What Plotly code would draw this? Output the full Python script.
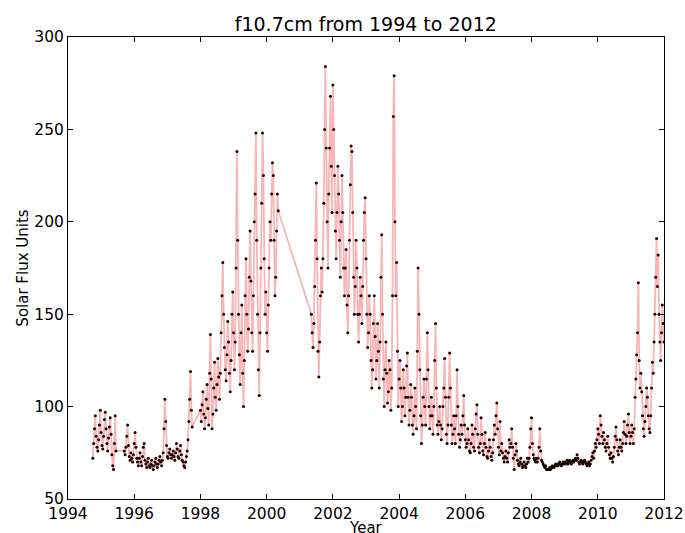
import numpy as np
import plotly.graph_objects as go

STEP = 0.025  # years between samples (~9 days)

# Segment start years
seg_starts = [1994.75, 1995.70, 1998.00, 2001.35]

seg_a = [72, 80, 88, 95, 84, 78, 76, 82, 90, 98, 86, 79, 77, 84, 93, 97, 88, 80, 76, 83,
         89, 94, 85, 74, 68, 66, 80, 95, 76]

seg_b = [76, 74, 78, 84, 90, 79, 73, 71, 75, 72, 70, 74, 80, 86, 78, 72, 70, 68, 72, 75,
         70, 68, 73, 78, 80, 71, 69, 67, 70, 72, 68, 67, 69, 71, 68, 66, 68, 70, 72, 69,
         67, 69, 71, 73, 70, 68, 71, 75, 88, 104, 92, 79, 73, 72, 75, 77, 74, 72, 74, 76,
         73, 71, 75, 80, 77, 73, 72, 76, 79, 74, 71, 70, 68, 67, 70, 73, 76, 82, 92, 104,
         119, 98, 89]

seg_c = [98, 92, 101, 108, 96, 88, 94, 104, 112, 99, 90, 118, 139, 115, 88, 96, 110, 124, 105, 98,
         112, 126, 116, 104, 118, 140, 160, 178, 150, 132, 120, 114, 128, 146, 135, 118, 108, 125, 150, 162,
         140, 120, 135, 175, 238, 190, 150, 128, 112, 140, 155, 118, 100, 125, 160, 180, 150, 130, 142, 170,
         195, 168, 140, 130, 160, 200, 215, 248, 190, 150, 120, 106, 140, 175, 210, 248, 225, 180, 150, 162,
         140, 130, 155, 175, 200, 190, 215, 232, 225, 190, 160, 170, 195, 215, 206]

seg_d = [
    # 2001.35 - 2001.975
    150, 140, 132, 145, 165, 190, 221, 180, 130, 116, 135, 160, 175, 162, 180, 210, 250, 284, 240, 200,
    175, 215, 240, 268, 230, 205,
    # 2002
    274, 250, 225, 195, 180, 205, 230, 215, 190, 170, 200, 225, 205, 175, 160, 175, 185, 155, 140, 160,
    190, 220, 241, 238, 205, 170, 150, 165, 190, 175, 150, 135, 150, 170, 160, 145, 165, 190, 205, 213,
    # 2003
    180, 150, 132, 140, 160, 150, 125, 110, 120, 145, 160, 138, 115, 125, 145, 130, 110, 135, 170, 193,
    150, 115, 100, 120, 135, 118, 102, 108, 125, 120, 98, 110, 160, 257, 279, 200, 160, 178, 130, 100,
    # 2004
    115, 125, 110, 92, 100, 120, 110, 95, 105, 122, 129, 105, 90, 98, 112, 105, 90, 85, 95, 110,
    100, 88, 130, 175, 150, 120, 95, 80, 90, 105, 115, 100, 90, 115, 140, 120, 100, 88, 95, 105,
    # 2005
    95, 85, 100, 125, 145, 110, 90, 85, 92, 100, 90, 82, 88, 100, 110, 126, 105, 85, 80, 90,
    105, 129, 110, 90, 80, 85, 95, 88, 80, 95, 120, 100, 85, 78, 82, 90, 85, 95, 106, 90,
    # 2006
    82, 78, 80, 88, 82, 76, 75, 80, 90, 85, 78, 76, 88, 96, 101, 85, 78, 75, 80, 94,
    85, 76, 74, 80, 86, 78, 73, 72, 76, 82, 78, 73, 71, 75, 82, 90, 85, 95, 102, 88,
    # 2007
    78, 74, 92, 76, 80, 75, 72, 70, 73, 76, 72, 70, 75, 82, 78, 80, 88, 78, 72, 66,
    74, 80, 76, 71, 69, 68, 70, 72, 69, 67, 68, 70, 68, 67, 69, 72, 70, 72, 78, 88,
    # 2008
    94, 80, 74, 72, 71, 70, 72, 70, 72, 78, 88, 76, 71, 70, 69, 68, 67, 68, 66, 66,
    66, 66, 67, 66, 67, 68, 67, 67, 68, 69, 68, 69, 68, 69, 70, 69, 68, 69, 70, 69,
    # 2009
    70, 69, 70, 71, 69, 70, 71, 70, 69, 70, 71, 70, 71, 72, 71, 74, 72, 70, 69, 70,
    71, 70, 69, 70, 71, 70, 69, 68, 69, 70, 68, 69, 71, 73, 75, 72, 76, 80, 78, 82,
    # 2010
    88, 85, 80, 95, 90, 84, 80, 86, 82, 78, 76, 80, 84, 78, 74, 72, 75, 72, 70, 73,
    78, 84, 89, 82, 76, 74, 78, 82, 78, 76, 80, 86, 92, 85, 80, 84, 90, 96, 86, 80,
    # 2011
    84, 90, 86, 80, 88, 105, 115, 128, 140, 167, 125, 110, 118, 108, 95, 88, 84, 92, 100, 110,
    105, 95, 88, 86, 95, 110, 124, 118, 135, 150, 170, 191, 165, 182, 150, 135, 125, 140, 155, 145,
    135,
]

segments = [seg_a, seg_b, seg_c, seg_d]

x_vals = []
y_vals = []
for start, vals in zip(seg_starts, segments):
    x_vals.extend((start + np.arange(len(vals)) * STEP).tolist())
    y_vals.extend(vals)

fig = go.Figure()
fig.add_trace(go.Scatter(
    x=x_vals, y=y_vals,
    mode="lines+markers",
    line=dict(color="rgba(240,90,90,0.45)", width=1.8),
    marker=dict(color="#1a0000", size=3, line=dict(width=0)),
    showlegend=False,
    hoverinfo="skip",
))

font_family = "DejaVu Sans"
fig.update_layout(
    width=685, height=533,
    margin=dict(l=68, r=21, t=37, b=34),
    paper_bgcolor="white", plot_bgcolor="white",
    font=dict(family=font_family, color="black"),
    title=dict(text="f10.7cm from 1994 to 2012", x=0.534, xanchor="center",
               y=0.955, yanchor="middle", font=dict(size=19, family=font_family, color="black")),
    annotations=[dict(
        text="Year", xref="paper", yref="paper", x=0.5, y=0,
        xanchor="center", yanchor="top", yshift=-18, showarrow=False,
        font=dict(size=15, family=font_family, color="black"),
    )],
)
fig.update_xaxes(
    range=[1994, 2012], tickmode="linear", tick0=1994, dtick=2,
    showline=True, linecolor="black", linewidth=1, mirror="ticks",
    ticks="inside", ticklen=5, tickcolor="black", showgrid=False, zeroline=False,
    tickfont=dict(size=15.5, family=font_family), automargin=False,
    ticklabelstandoff=0,
)
fig.update_yaxes(
    range=[50, 300], tickmode="linear", tick0=50, dtick=50,
    showline=True, linecolor="black", linewidth=1, mirror="ticks",
    ticks="inside", ticklen=5, tickcolor="black", showgrid=False, zeroline=False,
    tickfont=dict(size=15.5, family=font_family), automargin=False,
    title=dict(text="Solar Flux Units", font=dict(size=15, family=font_family), standoff=2),
)

fig.write_html("out.html")
